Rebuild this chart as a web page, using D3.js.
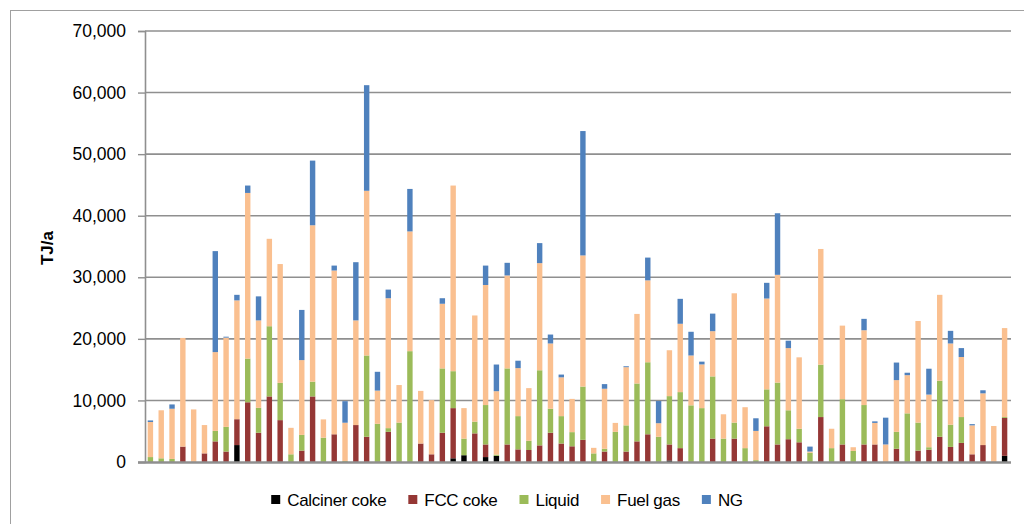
<!DOCTYPE html>
<html>
<head>
<meta charset="utf-8">
<script src="https://cdn.jsdelivr.net/npm/d3@7"></script>
<style>
  body { margin: 0; background: #fff; }
  svg { display: block; font-family: "Liberation Sans", Arial, sans-serif; }
</style>
</head>
<body>
<div id="chart"></div>
<script>
// one value per refinery, TJ/a
let calciner = [0,0,0,0,0,0,0,0,2750,0, 0,0,0,0,0,0,0,0,0,0,
  0,0,0,0,0,0,0,0,600,1100, 0,800,1000,0,0,0,0,0,0,0,
  0,0,0,0,0,0,0,0,250,0, 0,0,0,0,0,0,0,0,0,0,
  0,0,0,0,0,0,0,0,0,0, 0,0,0,0,0,0,0,0,0,1000];
let fccCoke = [0,0,0,2500,0,1400,3350,1700,4200,9700, 4750,10650,6800,0,1850,10650,0,4500,0,6000,
  4100,0,4900,0,0,3000,1250,4750,8150,0, 4650,2050,0,2850,2050,1950,2700,4750,3000,2550,
  3600,0,1700,0,1700,3350,4500,0,2600,2250, 0,0,3800,0,3800,0,0,5800,2850,3700,
  3200,0,7300,0,2850,0,2850,2850,0,2150, 0,1850,2000,4100,2450,3100,1250,2750,0,6150];
let liquid = [800,600,500,0,0,0,1700,4000,0,7100, 4050,11400,6050,1250,2550,2400,3950,0,150,0,
  13200,6200,600,6400,18000,0,0,10450,6000,2700, 1900,6400,200,12350,5400,1500,12200,3900,4450,2300,
  8650,1400,450,4900,4250,9400,11700,4100,7850,9100, 9200,8750,10100,3800,2600,2250,300,6000,10050,4700,
  2200,1500,8500,2250,7350,1800,6400,0,0,2750, 7900,4550,400,9100,3600,4200,0,0,0,150];
let fuelGas = [5700,7800,8150,17650,8540,4600,12800,14500,19300,26900, 14200,14200,19300,4300,12150,25400,2970,26600,6230,17000,
  26750,5400,21100,6100,19450,8550,8800,10500,30150,4950, 17250,19500,10300,15100,7800,8550,17400,10600,6300,5400,
  21300,900,9750,1450,9450,11300,13300,2200,7450,11100, 8100,7100,7350,3950,21000,6650,4750,14750,17500,10100,
  11600,200,18800,3150,11950,600,12150,3500,2850,8400, 6200,16500,8550,13950,13200,9750,4700,8400,5850,14450];
let ng = [250,0,700,0,0,0,16400,150,900,1200, 3900,0,0,0,8150,10500,0,800,3500,9450,
  17150,3050,1400,0,6900,0,0,900,0,0, 0,3150,4330,2050,1200,0,3250,1450,450,0,
  20200,0,750,0,150,0,3700,3600,0,4050, 3850,450,2850,0,0,0,2050,2550,10000,1200,
  0,800,0,0,0,0,1850,250,4350,2850, 400,0,4200,0,2050,1450,200,500,0,0];

let seriesNames = ["Calciner coke", "FCC coke", "Liquid", "Fuel gas", "NG"];
let seriesColors = ["#000000", "#953735", "#9bbb59", "#fac090", "#4f81bd"];
let yTicks = [0, 10000, 20000, 30000, 40000, 50000, 60000, 70000];

let width = 1024;
let height = 524;

let svg = d3.select('#chart')
    .append('svg')
    .attr('width', width)
    .attr('height', height);

// outer frame (right and bottom edges fall outside the picture)
svg.append('rect')
    .attr('x', 10.5)
    .attr('y', 10.5)
    .attr('width', 1030)
    .attr('height', 530)
    .attr('fill', 'none')
    .attr('stroke', '#a0a0a0');

let rows = calciner.map(function (d, i) {
    return {
        idx: i + 1,
        "Calciner coke": d,
        "FCC coke": fccCoke[i],
        "Liquid": liquid[i],
        "Fuel gas": fuelGas[i],
        "NG": ng[i]
    };
});

let x = d3.scaleBand()
    .domain(rows.map(d => d.idx))
    .range([145, 1010])
    .paddingInner(0.5)
    .paddingOuter(0.25);

let y = d3.scaleLinear()
    .domain([0, 70000])
    .range([462, 31]);

// gridlines
svg.append('g')
    .selectAll('line')
    .data(yTicks.slice(1))
    .enter()
    .append('line')
    .attr('x1', 145)
    .attr('x2', 1011)
    .attr('y1', d => y(d))
    .attr('y2', d => y(d))
    .attr('stroke', '#8f8f8f')
    .attr('stroke-width', 1.6);

// y axis
let yAxis = d3.axisLeft(y)
    .tickValues(yTicks)
    .tickSize(7)
    .tickPadding(12)
    .tickFormat(d3.format(','));
let gy = svg.append('g')
    .attr('transform', 'translate(145,0)')
    .call(yAxis);
gy.select('.domain').attr('stroke', '#8f8f8f').attr('stroke-width', 1.6);
gy.selectAll('.tick line').attr('stroke', '#8f8f8f').attr('stroke-width', 1.4);
gy.selectAll('.tick text')
    .attr('fill', '#000')
    .style('font-size', '17.5px')
    .style('font-family', '"Liberation Sans", Arial, sans-serif');

// stacked bars
let stack = d3.stack().keys(seriesNames);
let layers = stack(rows);

svg.append('g')
    .selectAll('g')
    .data(layers)
    .enter()
    .append('g')
    .attr('fill', (d, i) => seriesColors[i])
    .selectAll('rect')
    .data(d => d.filter(p => p[1] > p[0]))
    .enter()
    .append('rect')
    .attr('x', d => x(d.data.idx))
    .attr('width', x.bandwidth())
    .attr('y', d => y(d[1]))
    .attr('height', d => y(d[0]) - y(d[1]));

// x baseline
svg.append('line')
    .attr('x1', 138)
    .attr('x2', 1011)
    .attr('y1', 462.5)
    .attr('y2', 462.5)
    .attr('stroke', '#8f8f8f')
    .attr('stroke-width', 2.4);

// axis title
svg.append('text')
    .attr('transform', 'translate(53,248) rotate(-90)')
    .attr('text-anchor', 'middle')
    .style('font-size', '17px')
    .style('font-weight', 'bold')
    .text('TJ/a');

// legend
let legend = svg.append('g');
let lx = 0;
seriesNames.forEach(function (name, i) {
    let item = legend.append('g').attr('transform', 'translate(' + lx + ',0)');
    item.append('rect')
        .attr('x', 0)
        .attr('y', -5)
        .attr('width', 9)
        .attr('height', 9)
        .attr('fill', seriesColors[i]);
    let t = item.append('text')
        .attr('x', 16)
        .attr('y', 6)
        .style('font-size', '17px')
        .style('letter-spacing', '-0.3px')
        .text(name);
    lx += 16 + t.node().getComputedTextLength() + 22;
});
let legendWidth = lx - 22;
legend.attr('transform', 'translate(' + (507 - legendWidth / 2) + ',500)');
</script>
</body>
</html>
